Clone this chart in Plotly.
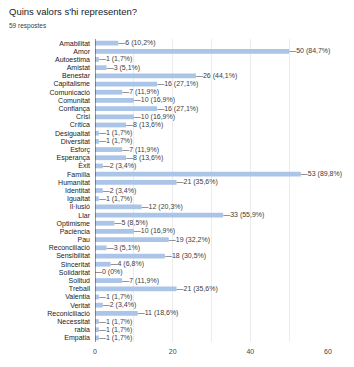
import plotly.graph_objects as go

categories = ["Amabilitat", "Amor", "Autoestima", "Amistat", "Benestar", "Capitalisme",
              "Comunicació", "Comunitat", "Confiança", "Crisi", "Crítica", "Desigualtat",
              "Diversitat", "Esforç", "Esperança", "Èxit", "Família", "Humanitat",
              "Identitat", "Igualtat", "Il·lusió", "Llar", "Optimisme", "Paciència",
              "Pau", "Reconciliació", "Sensibilitat", "Sinceritat", "Solidaritat",
              "Solitud", "Treball", "Valentia", "Veritat", "Reconiciliació",
              "Necessitat", "rabia", "Empatia"]
values = [6, 50, 1, 3, 26, 16, 7, 10, 16, 10, 8, 1, 1, 7, 8, 2, 53, 21, 2, 1, 12, 33,
          5, 10, 19, 3, 18, 4, 0, 7, 21, 1, 2, 11, 1, 1, 1]
total = 59
x_ticks = [0, 20, 40, 60]


def fmt(v):
    if v == 0:
        return "0 (0%)"
    p = f"{v / total * 100:.1f}".replace(".", ",")
    return f"{v} ({p}%)"


labels = ["—" + fmt(v) for v in values]

fig = go.Figure(go.Bar(
    y=categories, x=values, orientation="h",
    marker=dict(color="#abc5e9", line=dict(width=0)),
    text=labels, textposition="outside", cliponaxis=False,
    constraintext="none",
    textfont=dict(size=7, color="#3c4043", family="Arial, Liberation Sans"),
    hoverinfo="skip",
))

fig.update_layout(
    width=354, height=367,
    margin=dict(l=95, r=26, t=39, b=21),
    paper_bgcolor="white", plot_bgcolor="white",
    font=dict(family="Arial, Liberation Sans", color="#222222"),
    bargap=0.42, showlegend=False,
    xaxis=dict(range=[0, 60], tickvals=x_ticks, showgrid=True, gridcolor="#ececec",
               gridwidth=1, zeroline=False, ticklabelstandoff=4,
               tickfont=dict(size=7, color="#444444"), ticks="", fixedrange=True,
               minor=dict(dtick=10, showgrid=True, gridcolor="#ececec")),
    yaxis=dict(autorange="reversed", tickfont=dict(size=7, color="#222222"),
               showgrid=False, zeroline=False, ticks="", ticklabelstandoff=4,
               showline=False, fixedrange=True),
    shapes=[dict(type="line", xref="x", yref="paper", x0=0, x1=0, y0=0, y1=1,
                 line=dict(color="#333333", width=1))],
    annotations=[
        dict(text="Quins valors s'hi representen?", xref="paper", yref="paper",
             x=-88 / 233, y=1 + 28 / 307, xanchor="left", yanchor="middle",
             showarrow=False, font=dict(size=9.5, color="#202124")),
        dict(text="59 respostes", xref="paper", yref="paper",
             x=-88 / 233, y=1 + 13 / 307, xanchor="left", yanchor="middle",
             showarrow=False, font=dict(size=6.5, color="#3c4043")),
    ],
)

fig.write_html("out.html")
